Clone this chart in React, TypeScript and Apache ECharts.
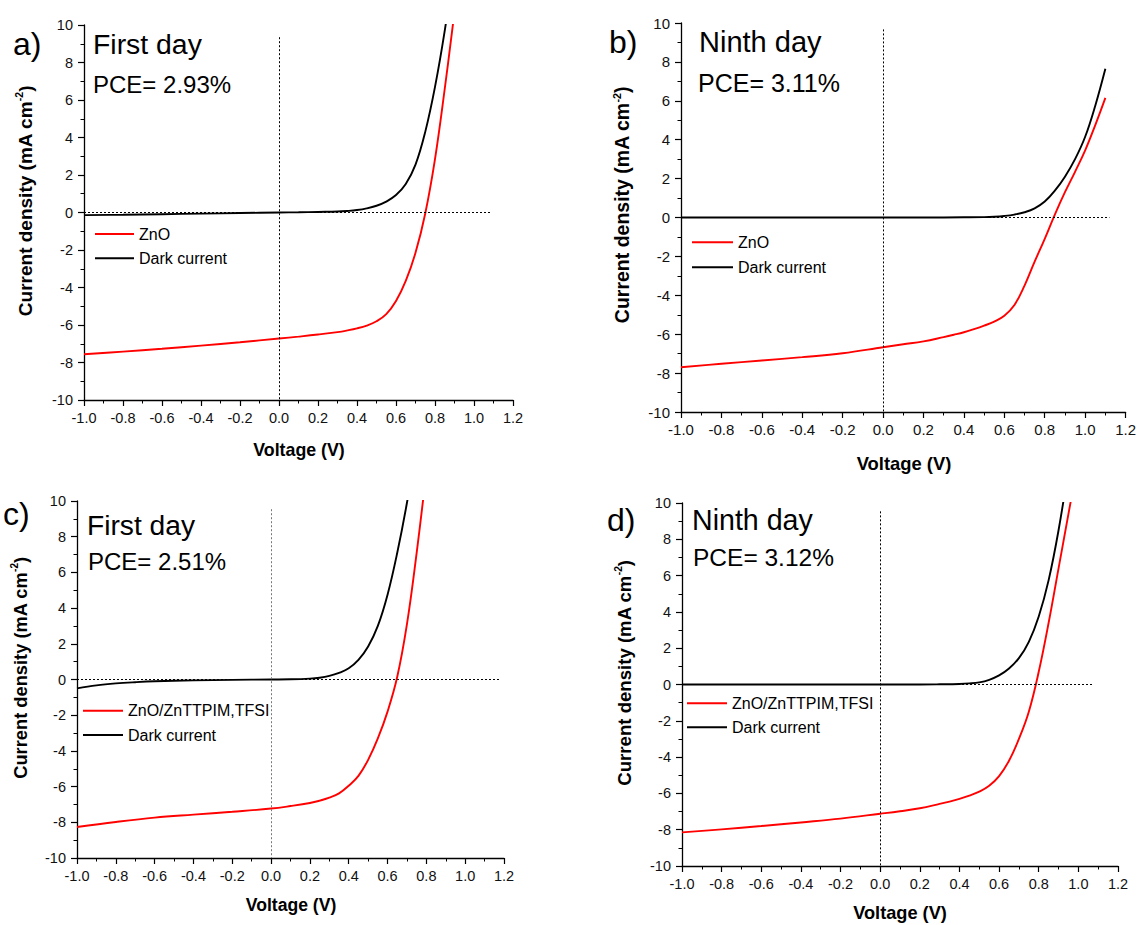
import React, { useEffect, useRef } from "react";
import * as echarts from "echarts";

const FONT = '"Liberation Sans", Arial, Helvetica, sans-serif';

// ---- Panel a (ZnO, first day) ----
const aLightV = [-1.0, -0.8, -0.6, -0.4, -0.2, 0.0, 0.1, 0.2, 0.3, 0.35, 0.4, 0.45, 0.5, 0.55, 0.6, 0.65, 0.7, 0.75, 0.8, 0.85, 0.9];
const aLightJ = [-7.56, -7.42, -7.27, -7.1, -6.92, -6.72, -6.62, -6.51, -6.38, -6.29, -6.18, -6.03, -5.8, -5.42, -4.72, -3.65, -2.15, -0.05, 2.85, 6.6, 10.7];
const aDarkV = [-1.0, -0.8, -0.6, -0.4, -0.2, 0.0, 0.1, 0.2, 0.3, 0.35, 0.4, 0.45, 0.5, 0.55, 0.6, 0.65, 0.7, 0.75, 0.8, 0.85, 0.9];
const aDarkJ = [-0.14, -0.12, -0.09, -0.06, -0.03, 0.0, 0.01, 0.03, 0.05, 0.08, 0.13, 0.22, 0.36, 0.58, 0.93, 1.52, 2.55, 4.3, 6.7, 9.7, 13.3];

// ---- Panel b (ZnO, ninth day) ----
const bLightV = [-1.0, -0.8, -0.6, -0.4, -0.2, 0.0, 0.1, 0.2, 0.3, 0.35, 0.4, 0.45, 0.5, 0.55, 0.6, 0.65, 0.7, 0.75, 0.8, 0.85, 0.9, 0.95, 1.0, 1.05, 1.1];
const bLightJ = [-7.7, -7.52, -7.35, -7.18, -6.98, -6.67, -6.52, -6.37, -6.15, -6.03, -5.9, -5.74, -5.56, -5.35, -5.05, -4.5, -3.5, -2.27, -1.1, 0.15, 1.3, 2.35, 3.45, 4.75, 6.15];
const bDarkV = [-1.0, -0.6, -0.2, 0.0, 0.2, 0.4, 0.5, 0.55, 0.6, 0.65, 0.7, 0.75, 0.8, 0.85, 0.9, 0.95, 1.0, 1.05, 1.1];
const bDarkJ = [0.0, 0.0, 0.0, 0.0, 0.0, 0.01, 0.02, 0.04, 0.08, 0.15, 0.27, 0.47, 0.82, 1.38, 2.1, 3.0, 4.15, 5.75, 7.65];

// ---- Panel c (ZnO/ZnTTPIM,TFSI, first day) ----
const cLightV = [-1.0, -0.8, -0.6, -0.4, -0.2, 0.0, 0.1, 0.2, 0.25, 0.3, 0.35, 0.4, 0.45, 0.5, 0.55, 0.6, 0.65, 0.7, 0.75, 0.8];
const cLightJ = [-8.26, -7.98, -7.74, -7.57, -7.41, -7.23, -7.09, -6.92, -6.79, -6.62, -6.38, -5.95, -5.4, -4.5, -3.3, -1.8, 0.15, 3.1, 7.1, 11.6];
const cDarkV = [-1.0, -0.9, -0.8, -0.7, -0.6, -0.4, -0.2, 0.0, 0.1, 0.2, 0.25, 0.3, 0.35, 0.4, 0.45, 0.5, 0.55, 0.6, 0.65, 0.7, 0.75];
const cDarkJ = [-0.5, -0.33, -0.22, -0.15, -0.1, -0.05, -0.02, 0.0, 0.01, 0.05, 0.1, 0.2, 0.37, 0.63, 1.1, 1.85, 3.0, 4.75, 7.1, 9.9, 13.2];

// ---- Panel d (ZnO/ZnTTPIM,TFSI, ninth day) ----
const dLightV = [-1.0, -0.8, -0.6, -0.4, -0.2, 0.0, 0.1, 0.2, 0.3, 0.35, 0.4, 0.45, 0.5, 0.55, 0.6, 0.65, 0.7, 0.75, 0.8, 0.85, 0.9, 0.95, 1.0];
const dLightJ = [-8.15, -7.98, -7.8, -7.6, -7.39, -7.12, -6.98, -6.82, -6.58, -6.45, -6.3, -6.12, -5.9, -5.58, -5.05, -4.2, -3.0, -1.5, 0.7, 3.4, 6.4, 9.4, 12.4];
const dDarkV = [-1.0, -0.6, -0.2, 0.0, 0.2, 0.3, 0.4, 0.45, 0.5, 0.55, 0.6, 0.65, 0.7, 0.75, 0.8, 0.85, 0.9, 0.95];
const dDarkJ = [0.0, 0.0, 0.0, 0.0, 0.0, 0.01, 0.03, 0.06, 0.12, 0.26, 0.5, 0.88, 1.45, 2.35, 3.75, 5.75, 8.5, 11.9];

const lightNames = ["ZnO", "ZnO", "ZnO/ZnTTPIM,TFSI", "ZnO/ZnTTPIM,TFSI"];
const darkName = "Dark current";
const panelLetters = ["a)", "b)", "c)", "d)"];
const dayLabels = ["First day", "Ninth day", "First day", "Ninth day"];
const pceLabels = ["PCE= 2.93%", "PCE= 3.11%", "PCE= 2.51%", "PCE= 3.12%"];
const xTitle = "Voltage (V)";

// dotted guide-line extents (data units)
const vLineTop = [9.35, 9.67, 9.54, 9.54];
const hLineEnd = [1.086, 1.12, 1.18, 1.07];

const lightV = [aLightV, bLightV, cLightV, dLightV];
const lightJ = [aLightJ, bLightJ, cLightJ, dLightJ];
const darkV = [aDarkV, bDarkV, cDarkV, dDarkV];
const darkJ = [aDarkJ, bDarkJ, cDarkJ, dDarkJ];

const RED = "#ff0000";
const BLACK = "#000000";

// layout (pixels)
const layout = [
  {
    grid: { left: 84, top: 25, width: 429, height: 375 },
    legend: { left: 95, rows: [234, 258.3], w: 39 },
    letter: [13, 44, 32], day: [93, 44, 28.4], pce: [93, 84, 24],
    yTitle: [25, 201, 19], xTitleP: [299, 450, 17.8], tick: 14.5, vColor: "#000",
  },
  {
    grid: { left: 681, top: 23, width: 447, height: 389 },
    legend: { left: 692, rows: [242.3, 267.3], w: 41 },
    letter: [609, 42, 32], day: [699, 42, 29], pce: [698, 83, 25],
    yTitle: [622, 205, 19.5], xTitleP: [904, 463, 18.4], tick: 15, vColor: "#000",
  },
  {
    grid: { left: 77, top: 501, width: 427, height: 357 },
    legend: { left: 83, rows: [710.7, 735], w: 40 },
    letter: [3, 514, 32], day: [87, 525, 28.2], pce: [88, 561, 24],
    yTitle: [20, 668, 18.3], xTitleP: [291, 905, 17.6], tick: 14.5, vColor: "#777",
  },
  {
    grid: { left: 682, top: 503, width: 436, height: 363 },
    legend: { left: 687, rows: [703.3, 727.3], w: 40 },
    letter: [607, 520, 32], day: [692, 520, 28.6], pce: [693, 557, 24.5],
    yTitle: [624, 673, 18.6], xTitleP: [900, 913, 18.2], tick: 14.5, vColor: "#000",
  },
];

const pairs = (v: number[], j: number[]) => v.map((x, i) => [x, j[i]]);

function buildOption() {
  const grids: any[] = [];
  const xAxes: any[] = [];
  const yAxes: any[] = [];
  const series: any[] = [];
  const graphics: any[] = [];

  layout.forEach((L, i) => {
    grids.push({ ...L.grid, containLabel: false });
    xAxes.push({
      type: "value",
      gridIndex: i,
      min: -1.0,
      max: 1.2,
      interval: 0.2,
      position: "bottom",
      splitLine: { show: false },
      axisLine: { show: true, onZero: false, lineStyle: { color: "#000", width: 1.3 } },
      axisTick: { show: true, length: 6, lineStyle: { color: "#000", width: 1.2 } },
      minorTick: { show: true, splitNumber: 2, length: 3.5, lineStyle: { color: "#000", width: 1 } },
      axisLabel: {
        fontSize: L.tick,
        fontFamily: FONT,
        color: "#111",
        margin: 10,
        formatter: (v: number) => (Math.abs(v) < 1e-9 ? "0.0" : v.toFixed(1)),
      },
    });
    yAxes.push({
      type: "value",
      gridIndex: i,
      min: -10,
      max: 10,
      interval: 2,
      position: "left",
      splitLine: { show: false },
      axisLine: { show: true, onZero: false, lineStyle: { color: "#000", width: 1.3 } },
      axisTick: { show: true, length: 6, lineStyle: { color: "#000", width: 1.2 } },
      minorTick: { show: true, splitNumber: 2, length: 3.5, lineStyle: { color: "#000", width: 1 } },
      axisLabel: { fontSize: L.tick, fontFamily: FONT, color: "#111", margin: 11 },
    });

    series.push({
      type: "line",
      name: lightNames[i],
      xAxisIndex: i,
      yAxisIndex: i,
      data: pairs(lightV[i], lightJ[i]),
      symbol: "none",
      showSymbol: false,
      smooth: 0.4,
      color: RED,
      itemStyle: { color: RED },
      lineStyle: { color: RED, width: 1.9 },
      emphasis: { disabled: true },
      z: 3,
    });
    series.push({
      type: "line",
      name: darkName,
      xAxisIndex: i,
      yAxisIndex: i,
      data: pairs(darkV[i], darkJ[i]),
      symbol: "none",
      showSymbol: false,
      smooth: 0.4,
      color: BLACK,
      itemStyle: { color: BLACK },
      lineStyle: { color: BLACK, width: 1.9 },
      emphasis: { disabled: true },
      z: 4,
      markLine: {
        silent: true,
        symbol: ["none", "none"],
        label: { show: false },
        emphasis: { disabled: true },
        lineStyle: { type: [2, 2], color: "#000", width: 1 },
        data: [
          [
            { coord: [0, vLineTop[i]], lineStyle: { type: [2, 2], color: L.vColor, width: 1 } },
            { coord: [0, -10] },
          ],
          [
            { coord: [-1.0, 0], lineStyle: { type: [2, 2], color: "#000", width: 1 } },
            { coord: [hLineEnd[i], 0] },
          ],
        ],
      },
    });

    // legend (drawn as graphic: line sample + label)
    const legendItems = [
      { name: lightNames[i], color: RED },
      { name: darkName, color: BLACK },
    ];
    legendItems.forEach((it, k) => {
      const yy = L.legend.rows[k];
      graphics.push({
        type: "line",
        silent: true,
        shape: { x1: L.legend.left, y1: yy, x2: L.legend.left + L.legend.w, y2: yy },
        style: { stroke: it.color, lineWidth: 1.9 },
      });
      graphics.push({
        type: "text",
        x: L.legend.left + L.legend.w + 5,
        y: yy,
        silent: true,
        style: {
          text: it.name,
          fontSize: 16,
          fontFamily: FONT,
          fill: "#000",
          align: "left",
          verticalAlign: "middle",
        },
      });
    });

    const txt = (p: number[], text: string) => ({
      type: "text",
      x: p[0],
      y: p[1],
      silent: true,
      style: {
        text,
        fontSize: p[2],
        fontFamily: FONT,
        fill: "#000",
        align: "left",
        verticalAlign: "middle",
      },
    });
    graphics.push(txt(L.letter, panelLetters[i]));
    graphics.push(txt(L.day, dayLabels[i]));
    graphics.push(txt(L.pce, pceLabels[i]));

    const ys = L.yTitle[2];
    graphics.push({
      type: "text",
      x: L.yTitle[0],
      y: L.yTitle[1],
      rotation: Math.PI / 2,
      silent: true,
      style: {
        text: "{a|Current density (mA cm}{s|-2}{a|)}",
        align: "center",
        verticalAlign: "middle",
        rich: {
          a: { fontSize: ys, fontWeight: "bold", fontFamily: FONT, fill: "#000", lineHeight: ys + 2 },
          s: { fontSize: ys * 0.55, fontWeight: "bold", fontFamily: FONT, fill: "#000", lineHeight: ys * 0.6, verticalAlign: "top" },
        },
      },
    });
    graphics.push({
      type: "text",
      x: L.xTitleP[0],
      y: L.xTitleP[1],
      silent: true,
      style: {
        text: xTitle,
        fontSize: L.xTitleP[2],
        fontWeight: "bold",
        fontFamily: FONT,
        fill: "#000",
        align: "center",
        verticalAlign: "middle",
      },
    });
  });

  return {
    animation: false,
    backgroundColor: "#ffffff",
    grid: grids,
    xAxis: xAxes,
    yAxis: yAxes,
    series,
    graphic: graphics,
  };
}

export default function App() {
  const ref = useRef<HTMLDivElement>(null);
  useEffect(() => {
    if (!ref.current) return;
    const chart = echarts.init(ref.current, undefined, { renderer: "svg" });
    chart.setOption(buildOption() as any);
    return () => chart.dispose();
  }, []);
  return (
    <div
      ref={ref}
      style={{ position: "absolute", left: 0, top: 0, width: 1139, height: 925, background: "#fff" }}
    />
  );
}
